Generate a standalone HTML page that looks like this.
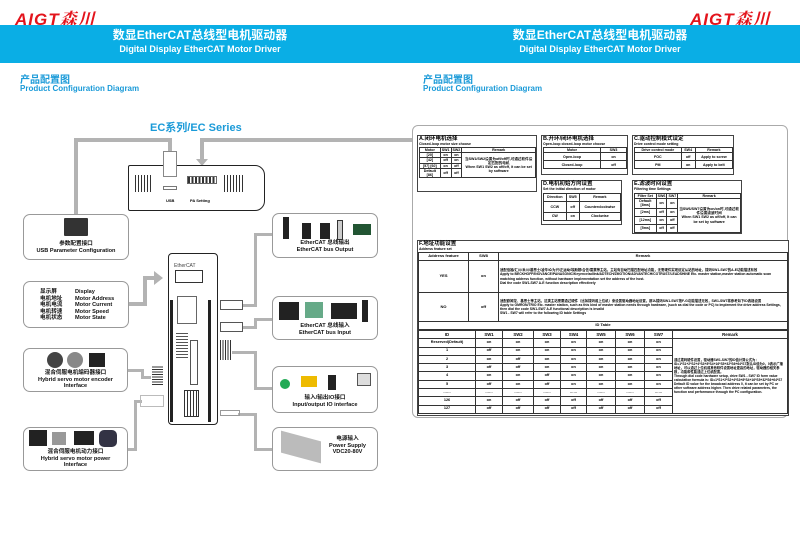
<!DOCTYPE html>
<html><head><meta charset="utf-8"><style>
*{margin:0;padding:0;box-sizing:border-box}
body{width:800px;height:541px;background:#fff;position:relative;overflow:hidden;font-family:"Liberation Sans","Noto Sans CJK SC",sans-serif}
.a{position:absolute}
.band{position:absolute;top:25px;height:38px;background:#0aaee5;color:#fff;text-align:center;font-weight:bold}
.band .t1{font-size:12px;margin-top:3px;line-height:15px}
.band .t2{font-size:9px;line-height:12px}
.logo{position:absolute;top:5px;font-size:17px;font-weight:bold;font-style:italic;color:#e3141c;letter-spacing:1px;font-family:"Liberation Sans","Noto Serif CJK SC",sans-serif}
.h1{position:absolute;color:#1a9ad8;font-weight:bold}
.box{position:absolute;border:1.3px solid #999;border-radius:7px;background:#fff;text-align:center;font-size:5.6px;font-weight:bold;line-height:6.5px;color:#111}
.ln{position:absolute;background:#b3b3b3}
.dk{position:absolute;background:#222}
table{border-collapse:collapse;position:absolute;font-size:3.6px;line-height:4.2px;background:#fff}
td{border:0.6px solid #333;text-align:center;padding:0 1px;font-weight:bold}
.tb{position:absolute;border:0.8px solid #444;background:#fff}
.tb .tt{font-size:5.5px;font-weight:bold;line-height:6px;padding-left:1px}
.tb .ts{font-size:3.5px;font-weight:bold;line-height:4px;padding-left:1px}
.idt td{height:8.3px}
</style></head><body>
<div class="logo" style="left:15px">AIGT森川</div>
<div class="logo" style="left:690px">AIGT森川</div>
<div class="band" style="left:0;width:400px"><div class="t1">数显EtherCAT总线型电机驱动器</div><div class="t2">Digital Display EtherCAT Motor Driver</div></div>
<div class="band" style="left:400px;width:400px"><div class="t1">数显EtherCAT总线型电机驱动器</div><div class="t2">Digital Display EtherCAT Motor Driver</div></div>
<div class="h1" style="left:20px;top:71px;font-size:10px">产品配置图</div>
<div class="h1" style="left:20px;top:84px;font-size:8px">Product Configuration Diagram</div>
<div class="h1" style="left:423px;top:71px;font-size:10px">产品配置图</div>
<div class="h1" style="left:423px;top:84px;font-size:8px">Product Configuration Diagram</div>
<div class="h1" style="left:150px;top:119px;font-size:11px">EC系列/EC Series</div>

<div class="ln" style="left:74px;top:138px;width:98px;height:4px"></div>
<div class="ln" style="left:74px;top:138px;width:4px;height:78px"></div>
<div class="ln" style="left:168px;top:138px;width:4px;height:16px"></div>
<div class="ln" style="left:200px;top:138px;width:212px;height:4px"></div>
<div class="ln" style="left:200px;top:138px;width:4px;height:22px"></div>
<div class="a" style="left:196px;top:159px;width:0;height:0;border-left:6px solid transparent;border-right:6px solid transparent;border-top:7px solid #b3b3b3"></div>
<div class="ln" style="left:129px;top:302px;width:18px;height:4px"></div>
<div class="ln" style="left:143px;top:276px;width:4px;height:30px"></div>
<div class="ln" style="left:143px;top:276px;width:12px;height:4px"></div>
<div class="a" style="left:154px;top:271px;width:0;height:0;border-top:7px solid transparent;border-bottom:7px solid transparent;border-left:9px solid #b3b3b3"></div>
<div class="ln" style="left:243px;top:304px;width:14px;height:3px"></div>
<div class="ln" style="left:254px;top:233px;width:3px;height:74px"></div>
<div class="ln" style="left:254px;top:233px;width:19px;height:3px"></div>
<div class="ln" style="left:243px;top:326px;width:14px;height:3px"></div>
<div class="ln" style="left:254px;top:318px;width:3px;height:11px"></div>
<div class="ln" style="left:254px;top:318px;width:19px;height:3px"></div>
<div class="ln" style="left:232px;top:351px;width:25px;height:3px"></div>
<div class="ln" style="left:254px;top:351px;width:3px;height:39px"></div>
<div class="ln" style="left:254px;top:387px;width:19px;height:3px"></div>
<div class="ln" style="left:128px;top:369px;width:16px;height:3px"></div>
<div class="ln" style="left:141px;top:369px;width:3px;height:10px"></div>
<div class="ln" style="left:141px;top:376px;width:10px;height:3px"></div>
<div class="ln" style="left:128px;top:448px;width:9px;height:3px"></div>
<div class="ln" style="left:134px;top:400px;width:3px;height:51px"></div>
<div class="ln" style="left:134px;top:400px;width:8px;height:3px"></div>
<div class="ln" style="left:238px;top:413px;width:19px;height:3px"></div>
<div class="ln" style="left:254px;top:413px;width:3px;height:38px"></div>
<div class="ln" style="left:254px;top:448px;width:19px;height:3px"></div>

<div class="a" style="left:128px;top:165px;width:137px;height:46px;border:1px solid #222;border-radius:2px 10px 10px 2px;background:#fff"></div>
<div class="a" style="left:135px;top:175px;width:18px;height:17px;background:repeating-linear-gradient(90deg,#333 0 1px,#fff 1px 3px)"></div>
<div class="a" style="left:224px;top:175px;width:20px;height:17px;background:repeating-linear-gradient(90deg,#333 0 1px,#fff 1px 3px)"></div>
<div class="a" style="left:187px;top:176px;width:30px;height:8px;border:0.6px solid #666;background:repeating-linear-gradient(90deg,#333 0 2px,#fff 2px 3.5px)"></div>
<div class="a" style="left:163px;top:186px;width:14px;height:4px;border:0.6px solid #777"></div>
<div class="a" style="left:163px;top:151px;width:14px;height:26px;border:0.8px solid #888;background:#fff"></div>
<div class="a" style="left:166px;top:198px;font-size:4px;font-weight:bold">USB</div>
<div class="a" style="left:190px;top:198px;font-size:4px;font-weight:bold">PA Setting</div>

<div class="box" style="left:23px;top:214px;width:106px;height:46px"><div style="margin:3px auto 0;width:24px;height:18px;background:#333;border-radius:1px"></div><div style="margin-top:5px">参数配置接口<br>USB Parameter Configuration</div></div>
<div class="box" style="left:23px;top:281px;width:106px;height:47px;text-align:left"><div class="a" style="left:16px;top:7px">显示屏<br>电机地址<br>电机电流<br>电机转速<br>电机状态</div><div class="a" style="left:51px;top:7px">Display<br>Motor Address<br>Motor Current<br>Motor Speed<br>Motor State</div></div>
<div class="box" style="left:23px;top:348px;width:105px;height:44px"><div style="height:20px;position:relative"><div class="dk" style="left:23px;top:3px;width:16px;height:16px;border-radius:8px;background:#444"></div><div class="dk" style="left:43px;top:3px;width:16px;height:16px;border-radius:8px;background:#888"></div><div class="dk" style="left:65px;top:4px;width:16px;height:14px;background:#222"></div></div><div style="margin-top:1px">混合伺服电机编码器接口<br>Hybrid servo motor encoder<br>Interface</div></div>
<div class="box" style="left:23px;top:427px;width:105px;height:44px"><div style="height:20px;position:relative"><div class="dk" style="left:5px;top:2px;width:18px;height:16px"></div><div class="dk" style="left:28px;top:4px;width:14px;height:13px;background:#999"></div><div class="dk" style="left:50px;top:3px;width:20px;height:14px"></div><div class="dk" style="left:75px;top:2px;width:18px;height:17px;border-radius:5px;background:#334"></div></div><div style="margin-top:1px">混合伺服电机动力接口<br>Hybrid servo motor power<br>Interface</div></div>

<div class="box" style="left:272px;top:213px;width:106px;height:45px"><div style="height:26px;position:relative"><div class="dk" style="left:10px;top:3px;width:6px;height:22px"></div><div class="dk" style="left:29px;top:9px;width:9px;height:16px"></div><div class="dk" style="left:47px;top:9px;width:10px;height:16px"></div><div class="dk" style="left:64px;top:6px;width:6px;height:20px;background:#ccc;border:0.6px solid #333"></div><div class="dk" style="left:80px;top:10px;width:18px;height:11px;background:#253"></div></div><div>EtherCAT 总线输出<br>EtherCAT bus Output</div></div>
<div class="box" style="left:272px;top:296px;width:106px;height:44px"><div style="height:26px;position:relative"><div class="dk" style="left:6px;top:5px;width:20px;height:18px"></div><div class="dk" style="left:32px;top:5px;width:18px;height:16px;background:#6a8"></div><div class="dk" style="left:58px;top:6px;width:26px;height:16px"></div><div class="dk" style="left:89px;top:3px;width:6px;height:22px"></div></div><div>EtherCAT 总线输入<br>EtherCAT bus Input</div></div>
<div class="box" style="left:272px;top:366px;width:106px;height:47px"><div style="height:28px;position:relative"><div class="dk" style="left:7px;top:12px;width:10px;height:10px;border-radius:5px;background:#2a5"></div><div class="dk" style="left:28px;top:9px;width:16px;height:11px;background:#eb0"></div><div class="dk" style="left:55px;top:8px;width:8px;height:15px"></div><div class="dk" style="left:84px;top:6px;width:14px;height:13px;background:#ddd;border:0.6px solid #555"></div></div><div>输入/输出IO接口<br>Input/output IO interface</div></div>
<div class="box" style="left:272px;top:427px;width:106px;height:44px"><div class="dk" style="left:8px;top:8px;width:40px;height:22px;background:#bbb;transform:skewY(15deg)"></div><div class="a" style="left:56px;top:8px">电源输入<br>Power Supply<br>VDC20-80V</div></div>

<div class="a" style="left:168px;top:253px;width:50px;height:172px;border:1px solid #222;border-radius:4px;background:#fff"></div>
<div class="dk" style="left:170px;top:300px;width:3px;height:122px"></div>
<div class="dk" style="left:208px;top:300px;width:3px;height:122px"></div>
<div class="a" style="left:174px;top:263px;font-size:5px;color:#444">EtherCAT</div>
<div class="a" style="left:175px;top:270px;width:28px;height:13px;border:0.6px solid #333"></div>
<div class="a" style="left:177px;top:296px;width:20px;height:28px;border:0.6px solid #666"></div>
<div class="a" style="left:176px;top:333px;width:12px;height:25px;background:repeating-linear-gradient(0deg,#555 0 1px,#fff 1px 3px)"></div>
<div class="a" style="left:190px;top:340px;width:8px;height:45px;border:0.6px solid #555"></div>
<div class="a" style="left:184px;top:390px;width:15px;height:27px;border:0.6px solid #333;background:repeating-linear-gradient(90deg,#fff 0 2px,#333 2px 3px)"></div>
<div class="a" style="left:220px;top:300px;width:23px;height:10px;border:0.6px solid #555;background:#fff"></div>
<div class="a" style="left:220px;top:322px;width:23px;height:10px;border:0.6px solid #555;background:#fff"></div>
<div class="a" style="left:220px;top:340px;width:12px;height:20px;background:repeating-linear-gradient(90deg,#333 0 1px,#fff 1px 2.5px)"></div>
<div class="a" style="left:152px;top:365px;width:11px;height:20px;background:repeating-linear-gradient(0deg,#333 0 1px,#fff 1px 2.5px)"></div>
<div class="a" style="left:140px;top:395px;width:24px;height:12px;border:0.6px solid #bbb"></div>
<div class="a" style="left:220px;top:410px;width:20px;height:6px;border:0.6px solid #999"></div>

<div class="a" style="left:412px;top:125px;width:376px;height:293px;border:1.5px solid #aaa;border-radius:6px"></div>

<div class="tb" style="left:417px;top:135px;width:120px;height:57px"><div class="tt">A.闭环电机选择</div><div class="ts">Closed-loop motor size choose</div>
<table style="left:1px;top:11px;width:117px"><tr><td>Motor</td><td>SW1</td><td>SW2</td><td>Remark</td></tr><tr><td>[20]</td><td>on</td><td>on</td><td rowspan="4">当SW1/SW2设置为off/off时,可通过软件设定匹配的电机<br>When SW1 SW2 as off/off, it can be set by software</td></tr><tr><td>[42]</td><td>off</td><td>on</td></tr><tr><td>[57] [60]</td><td>on</td><td>off</td></tr><tr><td>Default [86]</td><td>off</td><td>off</td></tr></table></div>
<div class="tb" style="left:541px;top:135px;width:87px;height:40px"><div class="tt">B.开环/闭环电机选择</div><div class="ts">Open-loop closed-loop motor choose</div>
<table style="left:1px;top:11px;width:84px"><tr><td>Motor</td><td>SW3</td></tr><tr><td style="height:8px">Open-loop</td><td>on</td></tr><tr><td style="height:8px">Closed-loop</td><td>off</td></tr></table></div>
<div class="tb" style="left:632px;top:135px;width:102px;height:40px"><div class="tt">C.驱动控制模式设定</div><div class="ts">Drive control mode setting</div>
<table style="left:1px;top:11px;width:99px"><tr><td>Drive control mode</td><td>SW4</td><td>Remark</td></tr><tr><td style="height:8px">FOC</td><td>off</td><td>Apply to screw</td></tr><tr><td style="height:8px">PM</td><td>on</td><td>Apply to belt</td></tr></table></div>
<div class="tb" style="left:541px;top:180px;width:81px;height:45px"><div class="tt">D.电机初始方向设置</div><div class="ts">Set the initial direction of motor</div>
<table style="left:1px;top:12px;width:78px"><tr><td style="height:8px">Direction</td><td>SW5</td><td>Remark</td></tr><tr><td style="height:11px">CCW</td><td>off</td><td>Counterclockwise</td></tr><tr><td style="height:8px">CW</td><td>on</td><td>Clockwise</td></tr></table></div>
<div class="tb" style="left:632px;top:180px;width:110px;height:54px"><div class="tt">E.滤波时间设置</div><div class="ts">Filtering time Settings</div>
<table style="left:1px;top:12px;width:107px"><tr><td>Filter Set</td><td>SW6</td><td>SW7</td><td>Remark</td></tr><tr><td style="height:8px">Default [8ms]</td><td>on</td><td>on</td><td rowspan="4">当SW6/SW7设置为on/on时,可通过软件设置滤波时间<br>When SW1 SW2 as off/off, It can be set by software</td></tr><tr><td style="height:8px">[2ms]</td><td>off</td><td>on</td></tr><tr><td style="height:8px">[12ms]</td><td>on</td><td>off</td></tr><tr><td style="height:8px">[5ms]</td><td>off</td><td>off</td></tr></table></div>

<div class="tb" style="left:417px;top:240px;width:372px;height:176px"><div class="tt">F.地址功能设置</div><div class="ts">Address feature set</div></div>
<table style="left:418px;top:252px;width:370px;font-size:4px"><tr><td style="width:50px;height:8px">Address feature</td><td style="width:30px">SW8</td><td>Remark</td></tr>
<tr><td style="height:32px">YES</td><td>on</td><td style="text-align:left;font-size:3.4px">适配倍福/汇川/禾川/基恩士/凌华/众为兴/正运动/埃斯顿/合信/雷赛等主站，主站有自动扫描匹配地址功能，无需硬件实现设定从站的地址，拨码SW1-SW7的A-E功能描述有效<br>Apply to BECKHOFF/INOVANCE/PANASONIC/Keyence/adlink/ADTECH/ZMOTION/ADVANTECH/COTRUST/LEADSHINE Etc. master station,master station automatic scan matching address function, without hardware implementation set the address of the host.<br>Dial the code SW1-SW7 A-E function description effectively</td></tr>
<tr><td style="height:29px">NO</td><td>off</td><td style="text-align:left;font-size:3.4px">适配欧姆龙、基恩士等主站，这类主站需要通过硬件（比如拨码或上位机）来设置驱动器地址设置，那么拨码SW1-SW7按F-G功能描述无效，SW1-SW7将参考如下ID表格设置<br>Apply to OMRON/TRIO Etc. master station, such as this kind of master station needs through hardware, (such as dial the code or PC) to implement the drive address Settings, then dial the code SW1-SW7 A-E functional description is invalid<br>SW1 - SW7 will refer to the following ID table Settings</td></tr>
<tr><td colspan="3" style="height:8px">ID Table</td></tr></table>
<table class="idt" style="left:418px;top:330px;width:370px;font-size:3.8px;line-height:3.8px">
<tr><td style="width:57px;height:7px;font-size:4.3px">ID</td><td style="width:27px;font-size:4.3px">SW1</td><td style="width:31px;font-size:4.3px">SW2</td><td style="width:27px;font-size:4.3px">SW3</td><td style="width:26px;font-size:4.3px">SW4</td><td style="width:29px;font-size:4.3px">SW5</td><td style="width:29px;font-size:4.3px">SW6</td><td style="width:28px;font-size:4.3px">SW7</td><td style="font-size:4.3px">Remark</td></tr>
<tr><td>Reserved(Default)</td><td>on</td><td>on</td><td>on</td><td>on</td><td>on</td><td>on</td><td>on</td><td rowspan="9" style="text-align:left;font-size:3.3px;line-height:4px;height:auto">通过拨码硬件设置，驱动器SW1-SW7的ID值计算公式为：ID=1*S1+2*S2+4*S3+8*S4+16*S5+32*S6+64*S7默认ID值为0，0表示广播地址，可以通过上位机或其他软件设置地址更高的地址，驱动器的相关参数，功能和性能通过上位机配置。<br>Through dial code hardware setup, drive SW1 - SW7 ID form value calculation formula is: ID=1*S1+2*S2+4*S3+8*S4+16*S5+32*S6+64*S7 Default ID value for the broadcast address 0, it can be set by PC or other software address higher. Then drive related parameters, the function and performance through the PC configuration.</td></tr>
<tr><td>1</td><td>off</td><td>on</td><td>on</td><td>on</td><td>on</td><td>on</td><td>on</td></tr>
<tr><td>2</td><td>on</td><td>off</td><td>on</td><td>on</td><td>on</td><td>on</td><td>on</td></tr>
<tr><td>3</td><td>off</td><td>off</td><td>on</td><td>on</td><td>on</td><td>on</td><td>on</td></tr>
<tr><td>4</td><td>on</td><td>on</td><td>off</td><td>on</td><td>on</td><td>on</td><td>on</td></tr>
<tr><td>5</td><td>off</td><td>on</td><td>off</td><td>on</td><td>on</td><td>on</td><td>on</td></tr>
<tr><td>……</td><td>……</td><td>……</td><td>……</td><td>……</td><td>……</td><td>……</td><td>……</td></tr>
<tr><td>126</td><td>on</td><td>off</td><td>off</td><td>off</td><td>off</td><td>off</td><td>off</td></tr>
<tr><td>127</td><td>off</td><td>off</td><td>off</td><td>off</td><td>off</td><td>off</td><td>off</td></tr>
</table>
</body></html>
